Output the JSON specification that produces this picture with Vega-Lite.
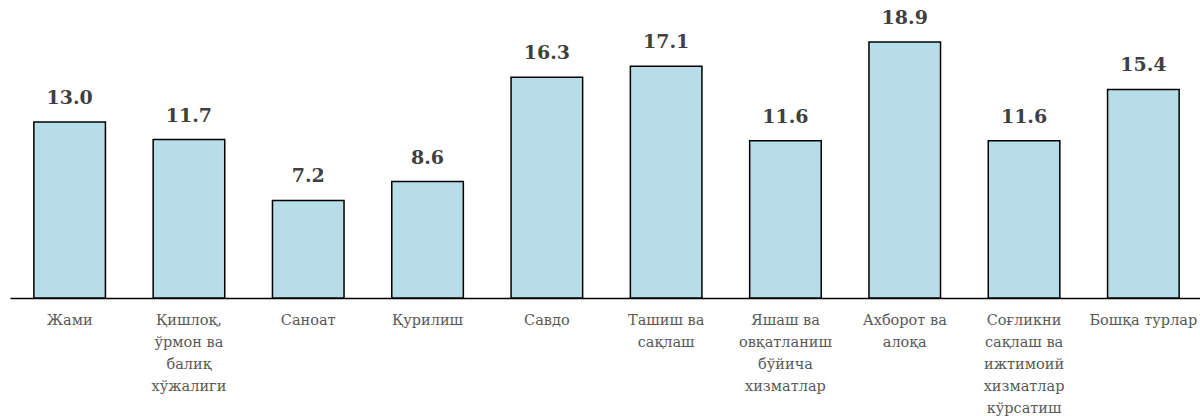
{
  "$schema": "https://vega.github.io/schema/vega-lite/v6.json",
  "autosize": "none",
  "width": 1193,
  "height": 298,
  "padding": {"left": 10, "top": 0, "right": 0, "bottom": 118},
  "background": "white",
  "config": {"view": {"stroke": null}, "font": "DejaVu Serif"},
  "data": {
    "values": [
      {"category": "Жами", "value": 13.0},
      {"category": "Қишлоқ,\nўрмон ва\nбалиқ\nхўжалиги", "value": 11.7},
      {"category": "Саноат", "value": 7.2},
      {"category": "Қурилиш", "value": 8.6},
      {"category": "Савдо", "value": 16.3},
      {"category": "Ташиш ва\nсақлаш", "value": 17.1},
      {"category": "Яшаш ва\nовқатланиш\nбўйича\nхизматлар", "value": 11.6},
      {"category": "Ахборот ва\nалоқа", "value": 18.9},
      {"category": "Соғликни\nсақлаш ва\nижтимоий\nхизматлар\nкўрсатиш", "value": 11.6},
      {"category": "Бошқа турлар", "value": 15.4}
    ]
  },
  "encoding": {
    "x": {
      "field": "category",
      "type": "nominal",
      "sort": null,
      "scale": {"paddingInner": 0.4, "paddingOuter": 0.2},
      "axis": {
        "title": null,
        "labelAngle": 0,
        "ticks": false,
        "domainColor": "#000000",
        "domainWidth": 1.5,
        "labelFont": "DejaVu Serif",
        "labelFontSize": 14.5,
        "labelColor": "#595959",
        "labelLineHeight": 22,
        "labelPadding": 15,
        "labelExpr": "split(datum.value, '\\n')"
      }
    },
    "y": {
      "field": "value",
      "type": "quantitative",
      "scale": {"domain": [0, 22], "nice": false},
      "axis": null
    }
  },
  "layer": [
    {
      "mark": {"type": "bar", "fill": "#b7dde8", "stroke": "#000000", "strokeWidth": 1.5}
    },
    {
      "mark": {"type": "text", "dy": -14, "baseline": "bottom", "font": "DejaVu Serif", "fontSize": 19, "fontWeight": "bold", "color": "#404040"},
      "encoding": {"text": {"field": "value", "type": "quantitative", "format": ".1f"}}
    }
  ]
}
